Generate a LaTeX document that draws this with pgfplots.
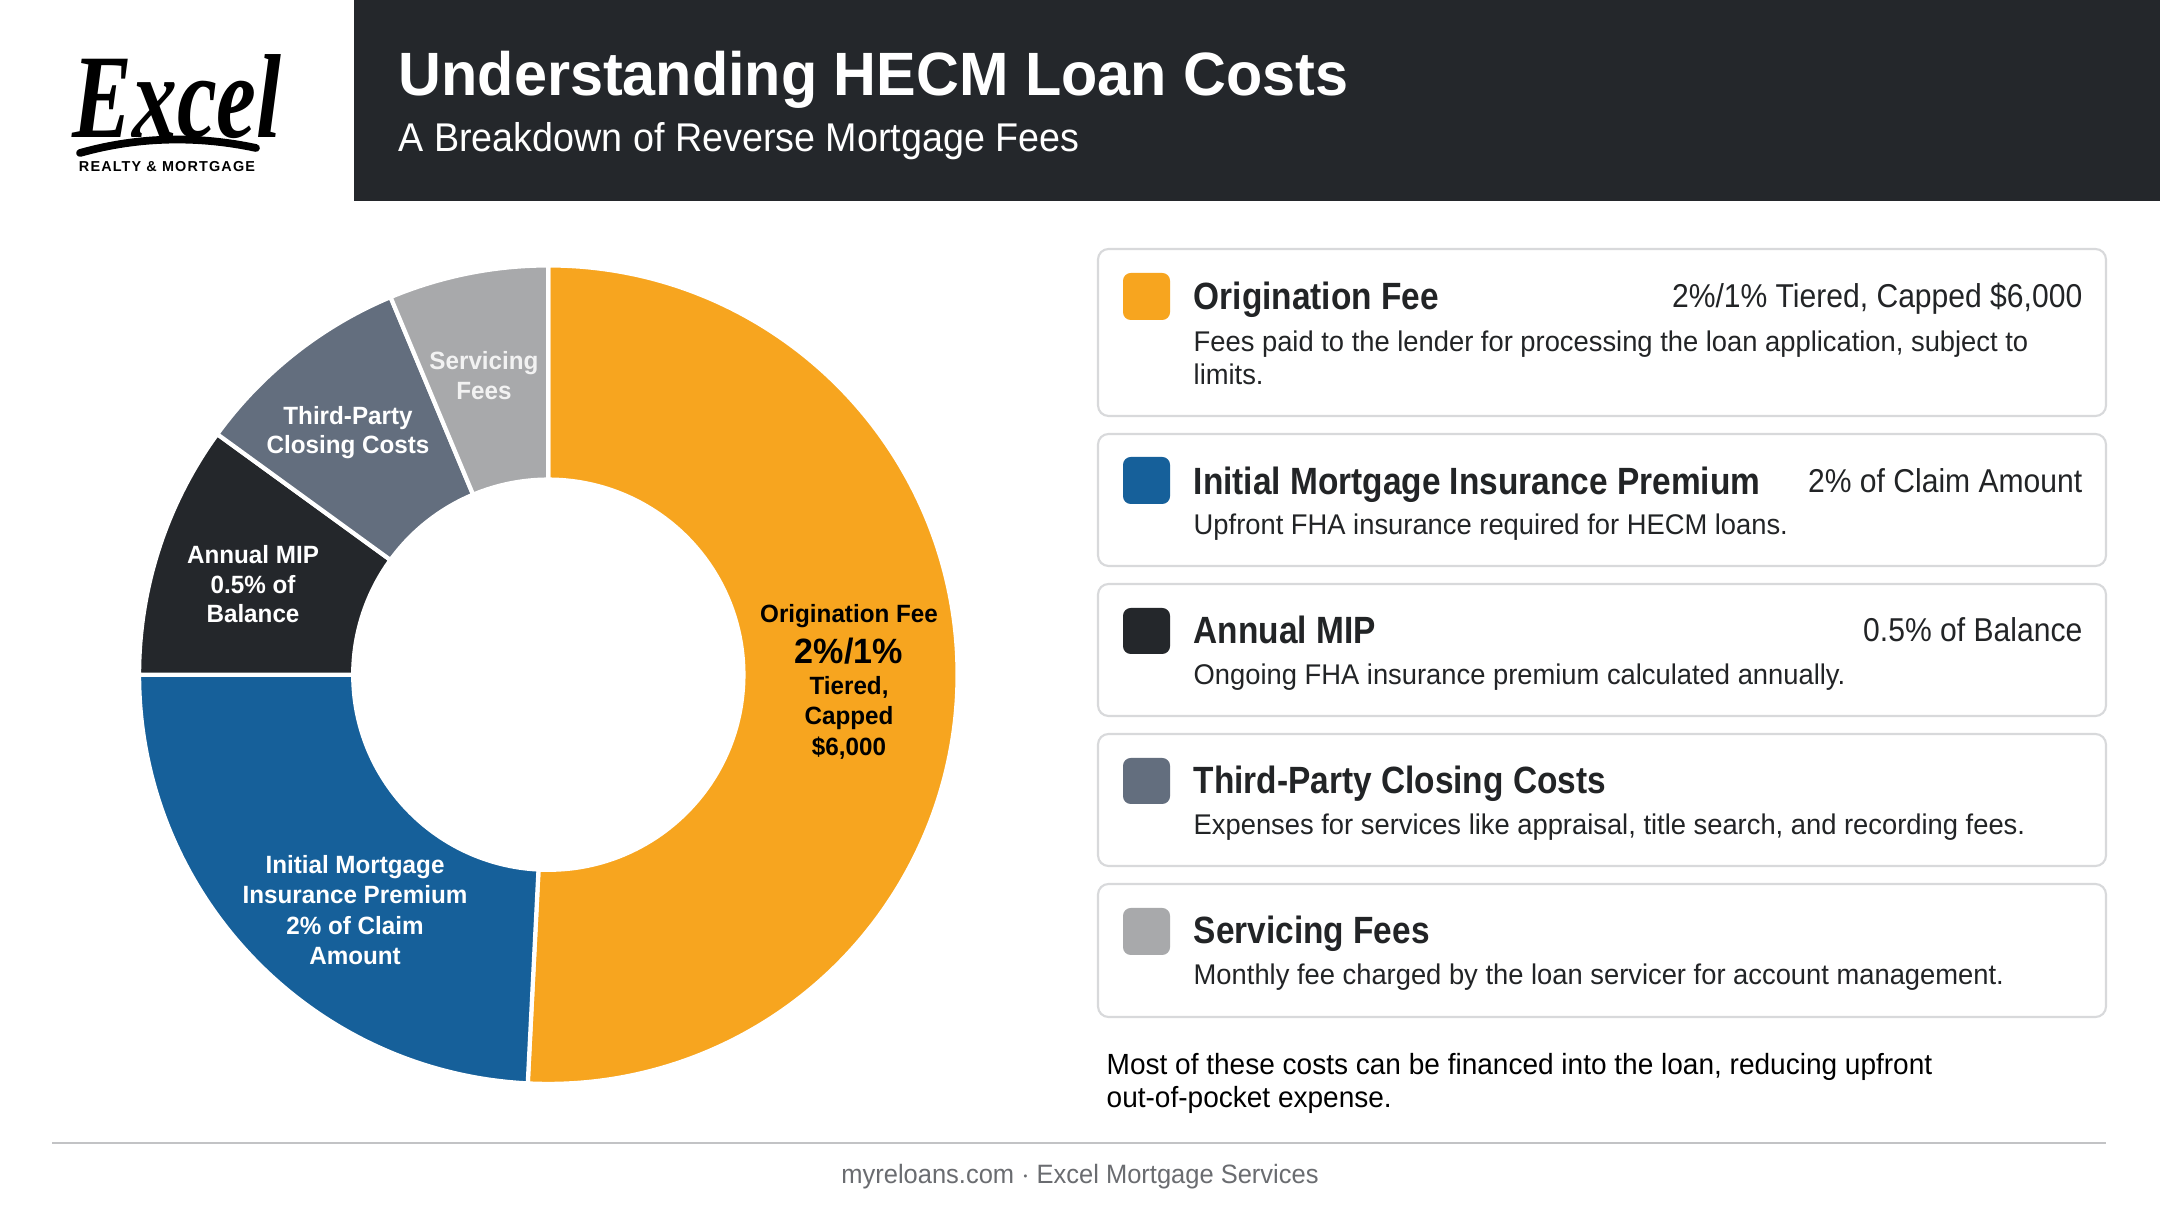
\documentclass[border=0pt]{standalone}
\usepackage{pgfplots}
\pgfplotsset{compat=1.18}
\usepackage{pgfplotstable}
\usepackage{fontspec}
\setmainfont{Liberation Sans}
\newfontfamily\fTitle{Liberation Sans}[FakeStretch=0.97]
\newfontfamily\fSub{Liberation Sans}[FakeStretch=0.94]
\newfontfamily\fCard{Liberation Sans}[FakeStretch=0.88]
\newfontfamily\fVal{Liberation Sans}[FakeStretch=0.91]
\newfontfamily\fDesc{Liberation Sans}[FakeStretch=0.96]
\newfontfamily\fLab{Liberation Sans}[FakeStretch=0.97]
\newfontfamily\fLogo{Liberation Serif}[FakeStretch=0.75]
\newfontfamily\fSmall{Liberation Sans}[LetterSpace=8]

\definecolor{c0}{HTML}{F7A51F}
\definecolor{c1}{HTML}{16609A}
\definecolor{c2}{HTML}{24272B}
\definecolor{c3}{HTML}{636E7E}
\definecolor{c4}{HTML}{A8A9AB}
\definecolor{hdr}{HTML}{24272B}
\definecolor{txt}{HTML}{222426}
\definecolor{bord}{HTML}{D8D9DB}
\definecolor{foot}{HTML}{6A6C70}

\pgfplotstableread{
value
50.8
24.2
10.0
8.7
6.3
}\costdata

\begin{document}
\begin{tikzpicture}
\begin{scope}[x=0.01cm,y=0.01cm]
\useasboundingbox (0,0) rectangle (2160,1206);
\fill[white] (0,0) rectangle (2160,1206);
% header
\fill[hdr] (354,{1206-201}) rectangle (2160,1206);
\node[anchor=base west, text=white, inner sep=0pt, font={\fTitle\bfseries\fontsize{17.4}{20}\selectfont}] at (398,{1206-96}) {Understanding HECM Loan Costs};
\node[anchor=base west, text=white, inner sep=0pt, font={\fSub\fontsize{11.4}{14}\selectfont}] at (398,{1206-152}) {A Breakdown of Reverse Mortgage Fees};
% logo
\node[anchor=base, inner sep=0pt, font={\fLogo\bfseries\itshape\fontsize{34}{36}\selectfont}] at (177,{1206-138}) {Excel};
\draw[line width=2.2pt, line cap=round] (80,{1206-153}) .. controls (140,{1206-136}) and (200,{1206-136}) .. (256,{1206-148});
\node[anchor=base, inner sep=0pt, font={\fSmall\bfseries\fontsize{4.1}{5}\selectfont}] at (167,{1206-172}) {REALTY \& MORTGAGE};
\end{scope}

% cumulative angles from data
\gdef\cum{0}
\foreach \i in {0,...,4}{
  \pgfplotstablegetelem{\i}{value}\of\costdata
  \pgfmathsetmacro\aS{90-3.6*\cum}
  \pgfmathsetmacro\newcum{\cum+\pgfplotsretval}
  \pgfmathsetmacro\aE{90-3.6*\newcum}
  \expandafter\xdef\csname aS\i\endcsname{\aS}
  \expandafter\xdef\csname aE\i\endcsname{\aE}
  \xdef\cum{\newcum}
}

\begin{axis}[at={(5.48cm,5.31cm)}, anchor=origin, x=4.09cm, y=4.09cm,
  xmin=-1.1, xmax=1.1, ymin=-1.1, ymax=1.1, hide axis, clip=false]
\pgfplotsinvokeforeach{0,...,4}{
  \fill[c#1, draw=white, line width=1.2pt]
    (axis cs:{cos(\csname aS#1\endcsname)},{sin(\csname aS#1\endcsname)})
    arc[start angle=\csname aS#1\endcsname, end angle=\csname aE#1\endcsname, radius=4.09cm]
    -- (axis cs:{0.4768*cos(\csname aE#1\endcsname)},{0.4768*sin(\csname aE#1\endcsname)})
    arc[start angle=\csname aE#1\endcsname, end angle=\csname aS#1\endcsname, radius=1.95cm]
    -- cycle;
}
\end{axis}

\begin{scope}[x=0.01cm,y=0.01cm]
% donut labels
\tikzset{lab/.style={anchor=base, inner sep=0pt, font={\fLab\bfseries\fontsize{7.1}{8.5}\selectfont}}}
\node[lab, text=black] at (849,{1206-623}) {Origination Fee};
\node[lab, text=black, font={\fLab\bfseries\fontsize{10}{12}\selectfont}] at (849,{1206-664}) {2\%/1\%};
\node[lab, text=black] at (849,{1206-695}) {Tiered,};
\node[lab, text=black] at (849,{1206-725}) {Capped};
\node[lab, text=black] at (849,{1206-756}) {\$6,000};
\node[lab, text=white] at (355,{1206-874}) {Initial Mortgage};
\node[lab, text=white] at (355,{1206-904}) {Insurance Premium};
\node[lab, text=white] at (355,{1206-935}) {2\% of Claim};
\node[lab, text=white] at (355,{1206-965}) {Amount};
\node[lab, text=white] at (253,{1206-564}) {Annual MIP};
\node[lab, text=white] at (253,{1206-594}) {0.5\% of};
\node[lab, text=white] at (253,{1206-623}) {Balance};
\node[lab, text=white] at (348,{1206-425}) {Third-Party};
\node[lab, text=white] at (348,{1206-454}) {Closing Costs};
\node[lab, text=white!95!black] at (484,{1206-370}) {Servicing};
\node[lab, text=white!95!black] at (484,{1206-400}) {Fees};

% cards
\tikzset{card/.style={draw=bord, line width=0.6pt, rounded corners=3pt, fill=white},
  ttl/.style={anchor=base west, inner sep=0pt, text=txt, font={\fCard\bfseries\fontsize{10.8}{13}\selectfont}},
  val/.style={anchor=base east, inner sep=0pt, text=txt, font={\fVal\fontsize{9.4}{11}\selectfont}},
  dsc/.style={anchor=base west, inner sep=0pt, text=txt, font={\fDesc\fontsize{8.1}{9.4}\selectfont}}}
\draw[card] (1098,{1206-249}) rectangle (2106,{1206-416});
\draw[card] (1098,{1206-434}) rectangle (2106,{1206-566});
\draw[card] (1098,{1206-584}) rectangle (2106,{1206-716});
\draw[card] (1098,{1206-734}) rectangle (2106,{1206-866});
\draw[card] (1098,{1206-884}) rectangle (2106,{1206-1017});
\fill[c0, rounded corners=2.2pt] (1123,{1206-273}) rectangle (1170,{1206-320});
\fill[c1, rounded corners=2.2pt] (1123,{1206-457}) rectangle (1170,{1206-504});
\fill[c2, rounded corners=2.2pt] (1123,{1206-608}) rectangle (1170,{1206-654});
\fill[c3, rounded corners=2.2pt] (1123,{1206-758}) rectangle (1170,{1206-804});
\fill[c4, rounded corners=2.2pt] (1123,{1206-908}) rectangle (1170,{1206-955});

\node[ttl] at (1193,{1206-310}) {Origination Fee};
\node[val] at (2083,{1206-308}) {2\%/1\% Tiered, Capped \$6,000};
\node[dsc] at (1193,{1206-352}) {Fees paid to the lender for processing the loan application, subject to};
\node[dsc] at (1193,{1206-385}) {limits.};

\node[ttl] at (1193,{1206-495}) {Initial Mortgage Insurance Premium};
\node[val] at (2083,{1206-493}) {2\% of Claim Amount};
\node[dsc] at (1193,{1206-535}) {Upfront FHA insurance required for HECM loans.};

\node[ttl] at (1193,{1206-644}) {Annual MIP};
\node[val] at (2083,{1206-642}) {0.5\% of Balance};
\node[dsc] at (1193,{1206-685}) {Ongoing FHA insurance premium calculated annually.};

\node[ttl] at (1193,{1206-794}) {Third-Party Closing Costs};
\node[dsc] at (1193,{1206-835}) {Expenses for services like appraisal, title search, and recording fees.};

\node[ttl] at (1193,{1206-944}) {Servicing Fees};
\node[dsc] at (1193,{1206-985}) {Monthly fee charged by the loan servicer for account management.};

% note
\node[dsc, text=black, font={\fDesc\fontsize{8.3}{9.4}\selectfont}] at (1106,{1206-1075}) {Most of these costs can be financed into the loan, reducing upfront};
\node[dsc, text=black, font={\fDesc\fontsize{8.3}{9.4}\selectfont}] at (1106,{1206-1108}) {out-of-pocket expense.};
% rule and footer
\draw[bord!90!black, line width=0.6pt] (52,{1206-1143}) -- (2106,{1206-1143});
\node[anchor=base, inner sep=0pt, text=foot, font={\fDesc\fontsize{7.55}{9}\selectfont}] at (1080,{1206-1184}) {myreloans.com $\cdot$ Excel Mortgage Services};
\end{scope}
\end{tikzpicture}
\end{document}
